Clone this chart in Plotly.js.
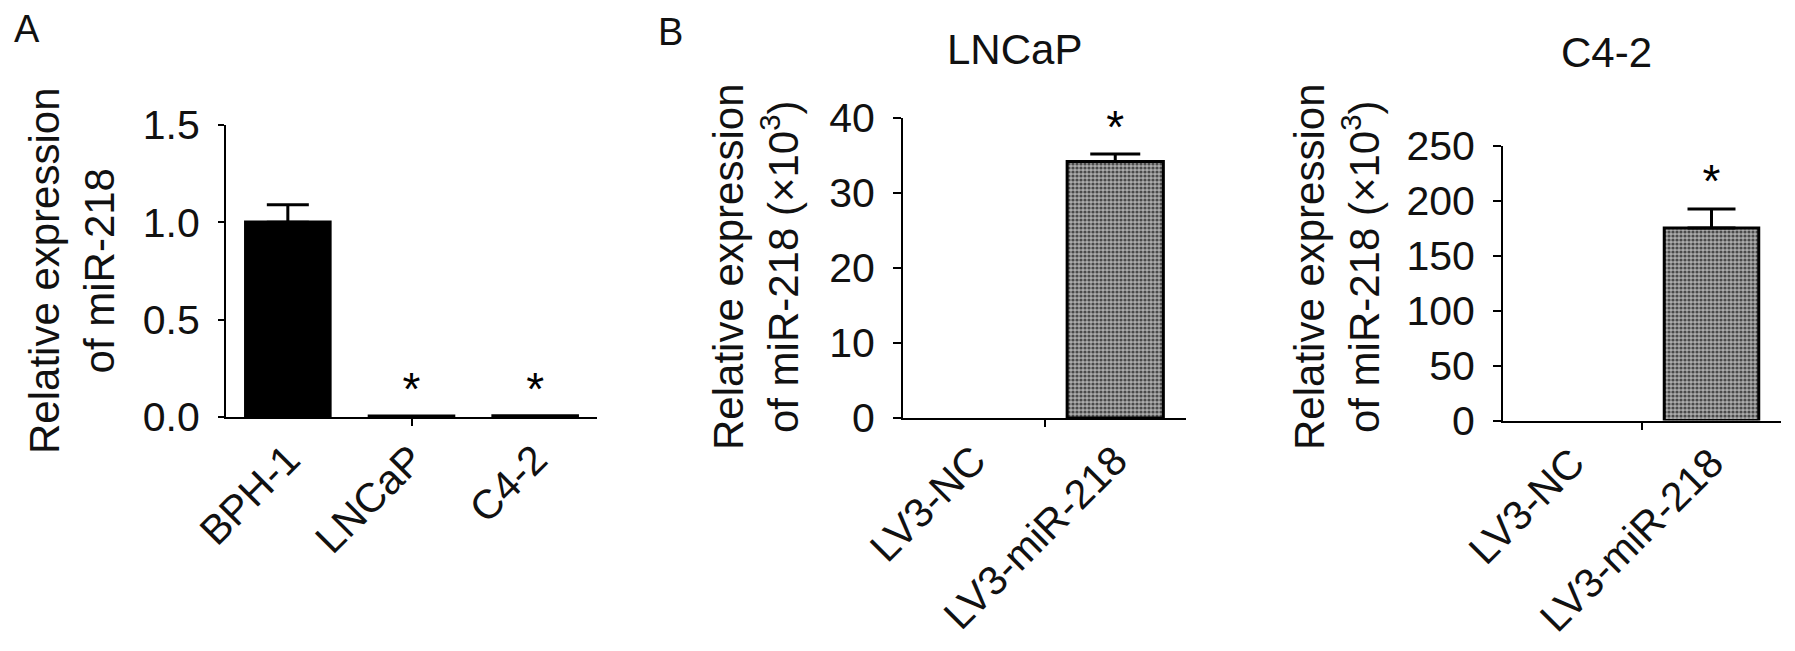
<!DOCTYPE html>
<html>
<head>
<meta charset="utf-8">
<script src="https://cdn.plot.ly/plotly-3.0.1.min.js"></script>
<style>html,body{margin:0;padding:0;background:#fff;}#chart{width:1795px;height:651px;}</style>
</head>
<body>
<div id="chart"></div>
<script>
// ---- Data ----
const catsA = ['BPH-1', 'LNCaP', 'C4-2'];
const valsA = [1.0, 0.004, 0.005];
const errA = [0.09, 0, 0];
const sigA = ['', '*', '*'];
const yTicksA = [0, 0.5, 1.0, 1.5];

const catsB = ['LV3-NC', 'LV3-miR-218'];
const valsLNCaP = [0, 34.2];
const errLNCaP = [0, 1.0];
const sigLNCaP = ['', '*'];
const yTicksLNCaP = [0, 10, 20, 30, 40];

const valsC42 = [0, 175.4];
const errC42 = [0, 17.3];
const sigC42 = ['', '*'];
const yTicksC42 = [0, 50, 100, 150, 200, 250];

// ---- Helpers ----
const W = 1795, H = 651;
const FONT = 'Liberation Sans, Arial, Helvetica, sans-serif';
const px = v => v / W;
const py = v => 1 - v / H;
const idx = a => a.map((_, i) => i);

function barTrace(cats, vals, xa, ya, fill, lw) {
  return {
    type: 'bar', x: idx(cats), y: vals, width: 0.68,
    xaxis: xa, yaxis: ya, showlegend: false, hoverinfo: 'none',
    // zero-height bars get no outline so they stay invisible, as in the reference
    marker: Object.assign({}, fill, {line: {color: '#000', width: vals.map(v => (v > 0 ? lw : 0))}})
  };
}
function errTrace(cats, vals, err, capHalf, xa, ya) {
  const keep = idx(err).filter(i => err[i] > 0);
  return {
    type: 'scatter', mode: 'markers', x: keep, y: keep.map(i => vals[i]),
    marker: {size: 1, opacity: 0},
    error_y: {type: 'data', symmetric: false, array: keep.map(i => err[i]), arrayminus: keep.map(() => 0),
              color: '#000', thickness: 3, width: capHalf, visible: true},
    xaxis: xa, yaxis: ya, showlegend: false, cliponaxis: false, hoverinfo: 'none'
  };
}
function sigTrace(cats, vals, err, sig, xa, ya) {
  const keep = idx(sig).filter(i => sig[i] !== '');
  return {
    type: 'scatter', mode: 'text',
    x: keep, y: keep.map(i => vals[i] + err[i]), text: keep.map(i => sig[i]),
    textposition: 'top center', textfont: {family: FONT, size: 46, color: '#000'},
    xaxis: xa, yaxis: ya, showlegend: false, cliponaxis: false, hoverinfo: 'none'
  };
}

const patFill = {
  color: '#8c8c8c',
  pattern: {shape: '.', bgcolor: '#acacac', fgcolor: '#4a4a4a', size: 4, solidity: 0.5}
};

const traces = [
  barTrace(catsA, valsA, 'x', 'y', {color: '#000'}, 3.5),
  errTrace(catsA, valsA, errA, 21, 'x', 'y'),
  sigTrace(catsA, valsA, errA, sigA, 'x', 'y'),
  barTrace(catsB, valsLNCaP, 'x2', 'y2', patFill, 3),
  errTrace(catsB, valsLNCaP, errLNCaP, 25, 'x2', 'y2'),
  sigTrace(catsB, valsLNCaP, errLNCaP, sigLNCaP, 'x2', 'y2'),
  barTrace(catsB, valsC42, 'x3', 'y3', patFill, 3),
  errTrace(catsB, valsC42, errC42, 24, 'x3', 'y3'),
  sigTrace(catsB, valsC42, errC42, sigC42, 'x3', 'y3')
];

const tickFont = {family: FONT, size: 41, color: '#111'};

function xAxis(cats, domain, yanchor) {
  const range = [-0.5, cats.length - 0.5];
  return {
    domain: domain, anchor: yanchor, range: range, fixedrange: true,
    tickmode: 'array', tickvals: idx(cats), ticktext: cats,
    ticks: 'inside', ticklen: 0, tickangle: -45, tickfont: tickFont,
    showline: true, linecolor: '#000', linewidth: 2,
    showgrid: false, zeroline: false,
    minor: {tickmode: 'array', tickvals: [(range[0] + range[1]) / 2], ticks: 'outside',
            ticklen: 7, tickwidth: 2, tickcolor: '#000', showgrid: false}
  };
}
function yAxis(ticks, domain, xanchor, fmt, ticklen) {
  return {
    domain: domain, anchor: xanchor, range: [ticks[0], ticks[ticks.length - 1]], fixedrange: true,
    tickmode: 'array', tickvals: ticks, tickformat: fmt,
    ticks: 'outside', ticklen: ticklen, tickwidth: 2, tickcolor: '#000',
    ticklabelstandoff: 10,
    tickfont: tickFont, showline: true, linecolor: '#000', linewidth: 2,
    showgrid: false, zeroline: false
  };
}

const annFont = {family: FONT, size: 42, color: '#111'};
const letterFont = {family: FONT, size: 38, color: '#111'};
const layout = {
  width: W, height: H,
  margin: {l: 0, r: 0, t: 0, b: 0},
  paper_bgcolor: '#fff', plot_bgcolor: '#fff',
  showlegend: false,
  xaxis: xAxis(catsA, [px(226), px(597)], 'y'),
  yaxis: yAxis(yTicksA, [py(417), py(125)], 'x', '.1f', 6),
  xaxis2: xAxis(catsB, [px(903), px(1186)], 'y2'),
  yaxis2: yAxis(yTicksLNCaP, [py(418), py(118)], 'x2', 'd', 8),
  xaxis3: xAxis(catsB, [px(1503), px(1781)], 'y3'),
  yaxis3: yAxis(yTicksC42, [py(420.5), py(146)], 'x3', 'd', 8),
  annotations: [
    {text: 'A', xref: 'paper', yref: 'paper', x: px(27), y: py(29), xanchor: 'center', yanchor: 'middle',
     showarrow: false, font: letterFont},
    {text: 'B', xref: 'paper', yref: 'paper', x: px(670), y: py(32), xanchor: 'center', yanchor: 'middle',
     showarrow: false, font: letterFont},
    {text: 'LNCaP', xref: 'paper', yref: 'paper', x: px(1014), y: py(50), xanchor: 'center', yanchor: 'middle',
     showarrow: false, font: annFont},
    {text: 'C4-2', xref: 'paper', yref: 'paper', x: px(1606), y: py(52), xanchor: 'center', yanchor: 'middle',
     showarrow: false, font: annFont},
    {text: 'Relative expression<br>of miR-218', xref: 'paper', yref: 'paper', x: px(72), y: py(271),
     xanchor: 'center', yanchor: 'middle', textangle: -90, showarrow: false, font: annFont},
    {text: 'Relative expression<br>of miR-218 (×10<sup>3</sup>)', xref: 'paper', yref: 'paper', x: px(756), y: py(267),
     xanchor: 'center', yanchor: 'middle', textangle: -90, showarrow: false, font: annFont},
    {text: 'Relative expression<br>of miR-218 (×10<sup>3</sup>)', xref: 'paper', yref: 'paper', x: px(1337), y: py(267),
     xanchor: 'center', yanchor: 'middle', textangle: -90, showarrow: false, font: annFont}
  ]
};

Plotly.newPlot('chart', traces, layout, {staticPlot: true, displayModeBar: false});
</script>
</body>
</html>
